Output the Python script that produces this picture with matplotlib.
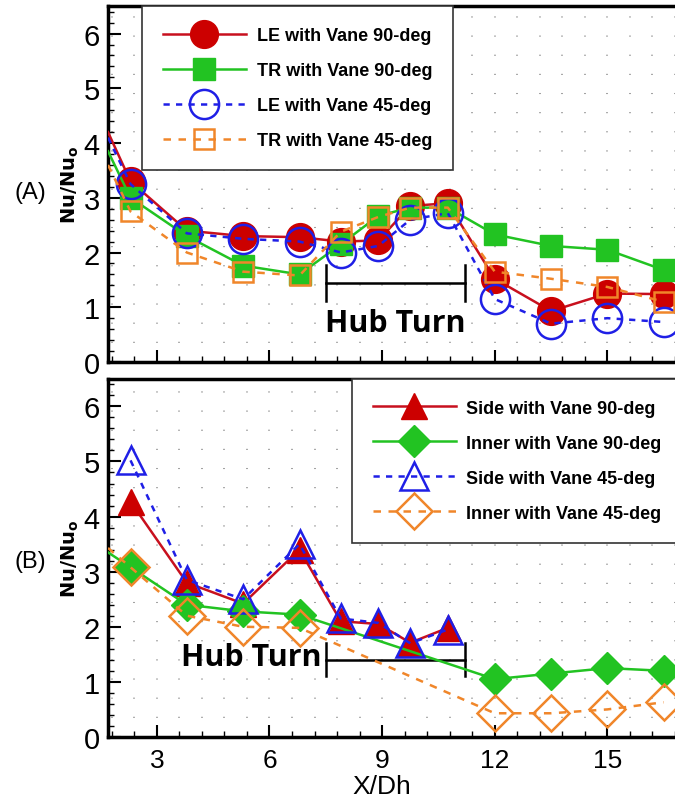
"""
Nu/Nu0 along the channel (X/Dh) for the 90-deg and 45-deg turning vanes.
(A) leading / trailing walls, (B) side / inner walls.
"""

import matplotlib
matplotlib.use("Agg")
import matplotlib.pyplot as plt
from matplotlib.ticker import MultipleLocator

# ---- panel A: leading (LE) and trailing (TR) walls ----
# first entry is the curve start at the left edge (no marker drawn)
x_a = [1.7, 2.3, 3.8, 5.3, 6.8, 7.9, 8.9, 9.75, 10.75, 12.0, 13.5, 15.0, 16.5]
le_90 = [4.2, 3.3, 2.4, 2.3, 2.28, 2.2, 2.22, 2.85, 2.9, 1.52, 0.93, 1.25, 1.24]
tr_90 = [3.85, 3.0, 2.3, 1.76, 1.6, 2.15, 2.67, 2.82, 2.82, 2.33, 2.12, 2.05, 1.68]
le_45 = [4.1, 3.25, 2.35, 2.25, 2.2, 2.0, 2.12, 2.6, 2.72, 1.15, 0.7, 0.8, 0.73]
tr_45 = [3.6, 2.75, 2.0, 1.65, 1.58, 2.38, 2.65, 2.82, 2.82, 1.65, 1.52, 1.37, 1.1]

# ---- panel B: side and inner walls ----
x_side = [2.3, 3.8, 5.3, 6.8, 7.9, 8.9, 9.75, 10.75]
side_90 = [4.27, 2.8, 2.42, 3.4, 2.1, 2.05, 1.71, 1.98]
side_45 = [5.02, 2.85, 2.5, 3.5, 2.15, 2.07, 1.7, 1.95]

x_inner = [1.7, 2.3, 3.8, 5.3, 6.8, 12.0, 13.5, 15.0, 16.5]
inner_90 = [3.35, 3.08, 2.4, 2.28, 2.22, 1.05, 1.15, 1.25, 1.2]
inner_45 = [3.43, 3.08, 2.2, 2.0, 1.98, 0.43, 0.43, 0.5, 0.63]

hub_turn = (7.5, 11.2)

RED = "#c8101e"
GREEN = "#22c322"
BLUE = "#1f1fe6"
ORANGE = "#f0862a"

TICK_FONT = "Liberation Sans"
LEGEND_KW = dict(prop={"family": TICK_FONT, "weight": "bold", "size": 13},
                 handlelength=4.6, labelspacing=1.0, borderpad=1.15,
                 handletextpad=0.6, fancybox=False, framealpha=1,
                 edgecolor="#333333", borderaxespad=0, loc="upper left")

fig = plt.figure(figsize=(6.75, 8.03), dpi=100)
ax_a = fig.add_axes([0.16, 0.548, 0.84, 0.443])
ax_b = fig.add_axes([0.16, 0.081, 0.84, 0.446])


def style_axes(ax):
    ax.set_xlim(1.7, 16.8)
    ax.set_ylim(0, 6.5)
    ax.xaxis.set_major_locator(MultipleLocator(3))
    ax.xaxis.set_minor_locator(MultipleLocator(0.6))
    ax.yaxis.set_major_locator(MultipleLocator(1))
    ax.yaxis.set_minor_locator(MultipleLocator(0.2))
    ax.tick_params(which="major", direction="in", length=9, width=1.5,
                   top=False, right=False)
    ax.tick_params(axis="y", which="major", pad=6, labelsize=21)
    ax.tick_params(axis="x", which="major", pad=8, labelsize=19)
    ax.tick_params(which="minor", direction="in", length=4, width=1,
                   top=False, right=False)
    for lab in ax.get_xticklabels() + ax.get_yticklabels():
        lab.set_fontfamily(TICK_FONT)
    ax.grid(True, which="both", axis="x", color="#9a9a9a",
            linestyle=(0, (0.6, 10)), linewidth=1.3)
    for side in ("left", "bottom", "top"):
        ax.spines[side].set_linewidth(2.5)
    ax.spines["right"].set_visible(False)
    ax.set_ylabel(r"Nu/Nu$_\mathbf{o}$", fontsize=14, fontweight="bold",
                  family="DejaVu Sans", labelpad=2)


def hub_bracket(ax, y, cap):
    x0, x1 = hub_turn
    ax.plot([x0, x1], [y, y], color="black", lw=1.8, zorder=2)
    for xc in (x0, x1):
        ax.plot([xc, xc], [y - cap, y + cap], color="black", lw=1.8, zorder=2)


style_axes(ax_a)
style_axes(ax_b)
ax_a.tick_params(axis="x", labelbottom=False)

# panel A curves
ax_a.plot(x_a, le_90, color=RED, lw=1.8, marker="o", ms=20,
          mfc="#cc0000", mec="#cc0000", markevery=slice(1, None),
          label="LE with Vane 90-deg", zorder=3)
ax_a.plot(x_a, tr_90, color=GREEN, lw=1.8, marker="s", ms=16,
          mfc=GREEN, mec=GREEN, markevery=slice(1, None),
          label="TR with Vane 90-deg", zorder=3)
ax_a.plot(x_a, le_45, color=BLUE, lw=1.8, ls=(0, (2.5, 2.5)), marker="o",
          ms=21, mfc="none", mec=BLUE, mew=1.8, markevery=slice(1, None),
          label="LE with Vane 45-deg", zorder=4)
ax_a.plot(x_a, tr_45, color=ORANGE, lw=1.8, ls=(0, (3, 3)), marker="s",
          ms=15, mfc="none", mec=ORANGE, mew=1.8, markevery=slice(1, None),
          label="TR with Vane 45-deg", zorder=4)

hub_bracket(ax_a, 1.45, 0.33)
ax_a.text(sum(hub_turn) / 2, 0.72, "Hub Turn", ha="center", va="center",
          fontsize=22, fontweight="bold", family="Open Sans")

leg_a = ax_a.legend(bbox_to_anchor=(0.06, 1.0), **LEGEND_KW)
leg_a.get_frame().set_linewidth(1.2)

# panel B curves
ax_b.plot(x_side, side_90, color=RED, lw=1.8, marker="^", ms=19,
          mfc="#cc0000", mec="#cc0000", label="Side with Vane 90-deg", zorder=3)
ax_b.plot(x_inner, inner_90, color=GREEN, lw=1.8, marker="D", ms=16,
          mfc=GREEN, mec=GREEN, markevery=slice(1, None),
          label="Inner with Vane 90-deg", zorder=3)
ax_b.plot(x_side, side_45, color=BLUE, lw=1.8, ls=(0, (2.5, 2.5)), marker="^",
          ms=20, mfc="none", mec=BLUE, mew=1.8,
          label="Side with Vane 45-deg", zorder=4)
ax_b.plot(x_inner, inner_45, color=ORANGE, lw=1.8, ls=(0, (3, 3)), marker="D",
          ms=18, mfc="none", mec=ORANGE, mew=1.8, markevery=slice(1, None),
          label="Inner with Vane 45-deg", zorder=4)

hub_bracket(ax_b, 1.4, 0.3)
ax_b.text(hub_turn[0] - 0.12, 1.45, "Hub Turn", ha="right", va="center",
          fontsize=22, fontweight="bold", family="Open Sans")

leg_b = ax_b.legend(bbox_to_anchor=(0.43, 1.0), **LEGEND_KW)
leg_b.get_frame().set_linewidth(1.2)

ax_b.set_xlabel("X/Dh", fontsize=19, family=TICK_FONT)
ax_b.xaxis.set_label_coords(0.483, -0.103)

fig.text(0.045, 0.76, "(A)", fontsize=17, family=TICK_FONT, ha="center", va="center")
fig.text(0.045, 0.30, "(B)", fontsize=17, family=TICK_FONT, ha="center", va="center")

fig.savefig("out.png", dpi=100)
